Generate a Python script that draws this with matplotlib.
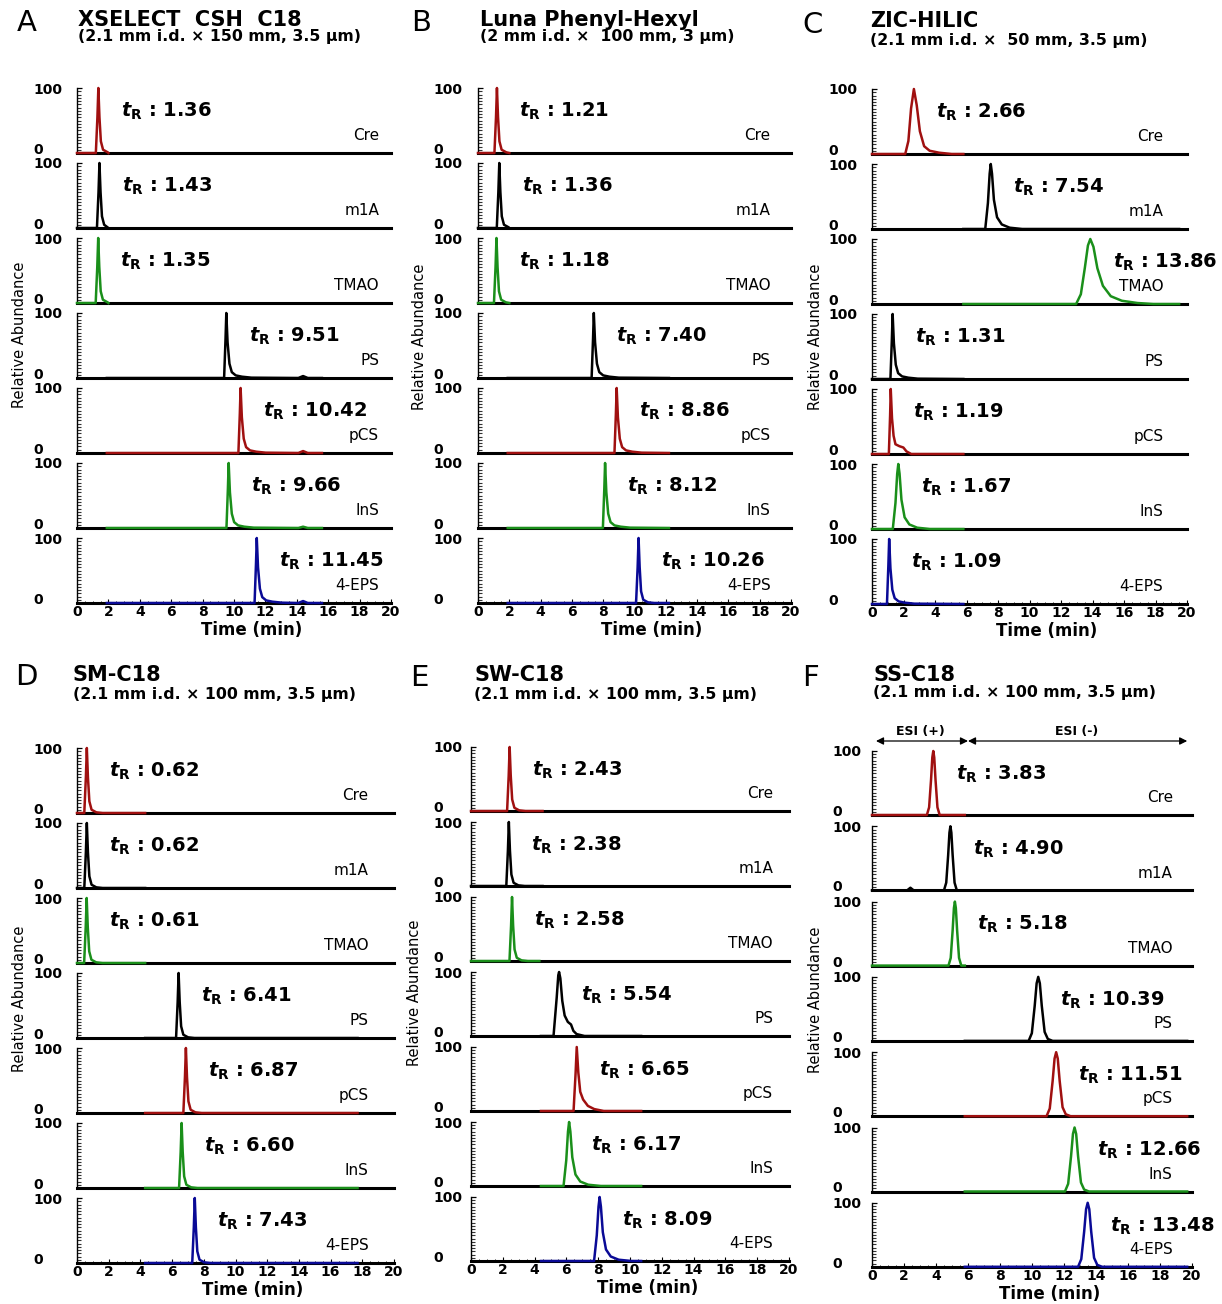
import matplotlib
matplotlib.use("Agg")
import matplotlib.pyplot as plt
from matplotlib.ticker import MultipleLocator
import matplotlib.transforms as mtransforms

plt.rcParams["font.family"] = ["DejaVu Sans"]
plt.rcParams["mathtext.fontset"] = "custom"
plt.rcParams["mathtext.rm"] = "DejaVu Sans"
plt.rcParams["mathtext.bf"] = "DejaVu Sans:bold"
plt.rcParams["mathtext.it"] = "DejaVu Sans:italic"
plt.rcParams["mathtext.bfit"] = "DejaVu Sans:italic:bold"

# ---------------------------------------------------------------- data
compounds = ["Cre", "m1A", "TMAO", "PS", "pCS", "InS", "4-EPS"]

panel_letters = ["A", "B", "C", "D", "E", "F"]
column_names = ["XSELECT  CSH  C18", "Luna Phenyl-Hexyl", "ZIC-HILIC",
                "SM-C18", "SW-C18", "SS-C18"]
column_specs = ["(2.1 mm i.d. × 150 mm, 3.5 μm)",
                "(2 mm i.d. ×  100 mm, 3 μm)",
                "(2.1 mm i.d. ×  50 mm, 3.5 μm)",
                "(2.1 mm i.d. × 100 mm, 3.5 μm)",
                "(2.1 mm i.d. × 100 mm, 3.5 μm)",
                "(2.1 mm i.d. × 100 mm, 3.5 μm)"]

# retention times (min), in the order of `compounds`
tr_A = [1.36, 1.43, 1.35, 9.51, 10.42, 9.66, 11.45]
tr_B = [1.21, 1.36, 1.18, 7.40, 8.86, 8.12, 10.26]
tr_C = [2.66, 7.54, 13.86, 1.31, 1.19, 1.67, 1.09]
tr_D = [0.62, 0.62, 0.61, 6.41, 6.87, 6.60, 7.43]
tr_E = [2.43, 2.38, 2.58, 5.54, 6.65, 6.17, 8.09]
tr_F = [3.83, 4.90, 5.18, 10.39, 11.51, 12.66, 13.48]

# acquisition window of each extracted-ion trace (start, end) in min
seg_A = [(0, 2.0), (0, 2.0), (0, 2.0), (1.9, 15.6), (1.9, 15.6), (1.9, 15.6), (1.9, 15.6)]
seg_B = [(0, 2.0), (0, 2.0), (0, 2.0), (1.9, 12.2), (1.9, 12.2), (1.9, 12.2), (1.9, 12.2)]
seg_C = [(0, 5.8), (5.8, 19.5), (5.8, 19.5), (0, 5.8), (0, 5.8), (0, 5.8), (0, 5.8)]
seg_D = [(0, 4.3), (0, 4.3), (0, 4.3), (4.3, 17.7), (4.3, 17.7), (4.3, 17.7), (4.3, 17.7)]
seg_E = [(0, 4.5), (0, 4.5), (0, 4.3), (4.4, 10.7), (4.4, 10.7), (4.4, 10.7), (4.4, 10.7)]
seg_F = [(0, 5.8), (0, 5.8), (0, 5.8), (5.8, 19.7), (5.8, 19.7), (5.8, 19.7), (5.8, 19.7)]

# peak profiles: (time from apex in min, relative abundance %)
peak_spike = [(-0.16, 0), (-0.06, 55), (0, 100), (0.07, 55), (0.16, 18), (0.3, 5), (0.6, 1), (1.0, 0)]
peak_tailing = [(-0.14, 0), (-0.05, 60), (0, 100), (0.08, 55), (0.2, 22), (0.35, 9),
                (0.6, 4), (1.0, 2), (1.6, 0.5)]
peak_medium = [(-0.35, 0), (-0.18, 40), (-0.07, 85), (0, 100), (0.08, 85), (0.2, 45),
               (0.4, 18), (0.7, 7), (1.2, 2), (2.0, 0)]
peak_broad = [(-0.55, 0), (-0.35, 20), (-0.18, 70), (0, 100), (0.18, 75), (0.38, 35),
              (0.65, 12), (1.0, 5), (1.6, 2), (2.4, 0)]
peak_broad_tail = [(-0.9, 0), (-0.6, 15), (-0.35, 55), (-0.15, 90), (0, 100), (0.2, 88),
                   (0.45, 55), (0.8, 28), (1.3, 12), (2.0, 5), (3.0, 1.5), (4.0, 0)]
peak_gauss = [(-0.4, 0), (-0.26, 12), (-0.14, 55), (-0.06, 90), (0, 100), (0.06, 90),
              (0.14, 55), (0.26, 12), (0.4, 0)]
peak_gauss_wide = [(-0.6, 0), (-0.4, 12), (-0.22, 55), (-0.1, 90), (0, 100), (0.1, 90),
                   (0.22, 55), (0.4, 14), (0.6, 3), (0.9, 0)]
peak_shoulder = [(-0.35, 0), (-0.15, 60), (-0.05, 95), (0, 100), (0.08, 90), (0.2, 55),
                 (0.35, 32), (0.55, 22), (0.75, 18), (0.9, 8), (1.1, 3), (1.6, 0)]
peak_shoulder_early = [(-0.12, 0), (-0.04, 60), (0, 100), (0.08, 55), (0.18, 28), (0.3, 15),
                       (0.55, 12), (0.8, 10), (1.0, 4), (1.3, 0)]
peak_long_tail = [(-0.2, 0), (-0.07, 60), (0, 100), (0.1, 60), (0.22, 30), (0.4, 18),
                  (0.7, 8), (1.1, 3), (1.7, 0)]

shape_A = [peak_spike, peak_spike, peak_spike, peak_tailing, peak_tailing, peak_tailing, peak_tailing]
shape_B = [peak_spike, peak_spike, peak_spike, peak_tailing, peak_tailing, peak_tailing, peak_spike]
shape_C = [peak_broad, peak_medium, peak_broad_tail, peak_tailing, peak_shoulder_early,
           peak_medium, peak_tailing]
shape_D = [peak_spike] * 7
shape_E = [peak_spike, peak_spike, peak_spike, peak_shoulder, peak_long_tail,
           peak_medium, peak_medium]
shape_F = [peak_gauss, peak_gauss, peak_gauss, peak_gauss_wide, peak_gauss_wide,
           peak_gauss_wide, peak_gauss_wide]

# small secondary signals: (time, abundance, half width)
minor_A = [[], [], [], [(14.4, 3, 0.3)], [(14.4, 3, 0.3)], [(14.4, 2, 0.3)], [(14.4, 3, 0.3)]]
minor_F = [[], [(2.4, 4, 0.2)], [], [], [], [], []]
minor_none = [[]] * 7

panel_tr = [tr_A, tr_B, tr_C, tr_D, tr_E, tr_F]
panel_seg = [seg_A, seg_B, seg_C, seg_D, seg_E, seg_F]
panel_shape = [shape_A, shape_B, shape_C, shape_D, shape_E, shape_F]
panel_minor = [minor_A, minor_none, minor_none, minor_none, minor_none, minor_F]

x_ticks = list(range(0, 21, 2))

# ---------------------------------------------------------------- styling
trace_colors = ["#a01010", "black", "#1a8f1a", "black", "#a01010", "#1a8f1a", "#0a0a96"]

W, H = 1222, 1304
fig = plt.figure(figsize=(W / 100, H / 100), dpi=100)

# per panel geometry in pixels
layout = [
    dict(x0=77, x20=391, top=88, pitch=75, h=65, lab=0.962, pad=44, ylab=(20, 335),
         letter=(17, 23), title=(78, 20, 37)),
    dict(x0=478, x20=791, top=88, pitch=75, h=65, lab=0.935, pad=45, ylab=(420, 337),
         letter=(411, 23), title=(480, 20, 37)),
    dict(x0=872, x20=1187, top=89, pitch=75, h=65, lab=0.925, pad=44, ylab=(815, 337),
         letter=(802, 25), title=(870, 21, 41)),
    dict(x0=77, x20=394, top=748, pitch=75, h=65, lab=0.92, pad=44, ylab=(20, 999),
         letter=(15, 677), title=(73, 675, 695)),
    dict(x0=471, x20=789, top=747, pitch=75, h=64, lab=0.95, pad=38, ylab=(414, 993),
         letter=(410, 678), title=(474, 675, 694)),
    dict(x0=872, x20=1192, top=751, pitch=75.3, h=64, lab=0.94, pad=40, ylab=(815, 1000),
         letter=(802, 678), title=(873, 675, 693)),
]


def px_rect(left, top, width, height):
    return [left / W, 1 - (top + height) / H, width / W, height / H]


def trace_points(tr, start, end, profile, bumps):
    pts = [(start, 0.0), (end, 0.0)]
    for dt, y in profile:
        t = tr + dt
        if start < t < end:
            pts.append((t, y))
    for bt, bh, bw in bumps:
        pts += [(bt - bw, 0.0), (bt, bh), (bt + bw, 0.0)]
    pts.sort()
    return [p[0] for p in pts], [p[1] for p in pts]


for p, lay in enumerate(layout):
    width = lay["x20"] - lay["x0"]
    axes = []
    for i, name in enumerate(compounds):
        top = lay["top"] + lay["pitch"] * i
        ax = fig.add_axes(px_rect(lay["x0"], top, width, lay["h"]))
        axes.append(ax)
        ax.set_xlim(0, 20)
        ax.set_ylim(0, 100)
        ax.patch.set_visible(False)
        for s in ("top", "right"):
            ax.spines[s].set_visible(False)
        ax.spines["left"].set_linewidth(1.0)
        ax.spines["bottom"].set_linewidth(2.2)

        tr = panel_tr[p][i]
        start, end = panel_seg[p][i]
        xs, ys = trace_points(tr, start, end, panel_shape[p][i], panel_minor[p][i])
        ax.plot(xs, ys, color=trace_colors[i], lw=1.8, clip_on=False, zorder=3,
                solid_joinstyle="round")

        ax.annotate(r"$\mathbfit{t}_{\mathbf{R}}$ : " + f"{tr:.2f}",
                    xy=(tr, 0.555), xycoords=("data", "axes fraction"),
                    xytext=(16, 0), textcoords="offset points",
                    ha="left", va="baseline", fontsize=14, fontweight="bold")
        ax.text(lay["lab"], 0.2, name, transform=ax.transAxes, ha="right",
                va="baseline", fontsize=11)

        # y axis: 0 / 100 with a dense ruler of minor ticks
        ax.set_yticks([0, 100])
        ax.set_yticklabels(["0", "100"], fontsize=10, fontweight="bold")
        ax.yaxis.set_minor_locator(MultipleLocator(5))
        ax.tick_params(axis="y", which="major", direction="in", length=3.5, width=0.9,
                       pad=lay["pad"] * 0.72)
        ax.tick_params(axis="y", which="minor", direction="in", length=3, width=0.8,
                       color="#333333")
        for lbl in ax.get_yticklabels():
            lbl.set_horizontalalignment("left")

        if i < len(compounds) - 1:
            ax.tick_params(axis="x", which="both", bottom=False, labelbottom=False)
        else:
            ax.set_xticks(x_ticks)
            ax.set_xticklabels([str(v) for v in x_ticks], fontsize=10, fontweight="bold")
            ax.xaxis.set_minor_locator(MultipleLocator(0.5))
            ax.tick_params(axis="x", which="major", direction="in", length=3, width=0.8,
                           pad=1.5)
            ax.tick_params(axis="x", which="minor", direction="in", length=1.8, width=0.6)
            ax.set_xlabel("Time (min)", fontsize=12, fontweight="bold")
            ax.xaxis.set_label_coords(0.555, -27 / lay["h"])
            ax.xaxis.label.set_va("center")

        # lift the "0" label a little above the baseline
        zero_lbl = ax.get_yticklabels()[0]
        zero_lbl.set_transform(zero_lbl.get_transform()
                               + mtransforms.ScaledTranslation(0, 4.5 / 100, fig.dpi_scale_trans))

    # panel headings
    lx, ly = lay["letter"]
    fig.text(lx / W, 1 - ly / H, panel_letters[p], fontsize=21, ha="left", va="center")
    tx, ty, sy = lay["title"]
    fig.text(tx / W, 1 - ty / H, column_names[p], fontsize=15, fontweight="bold",
             ha="left", va="center")
    fig.text(tx / W, 1 - sy / H, column_specs[p], fontsize=11.3, fontweight="bold",
             ha="left", va="center")
    yx, yy = lay["ylab"]
    fig.text(yx / W, 1 - yy / H, "Relative Abundance", rotation=90, fontsize=10.5,
             ha="center", va="center")

    # ionisation mode switch for the SS-C18 run
    if panel_letters[p] == "F":
        ax0 = axes[0]
        arrow_y = 1 + 10 / lay["h"]
        for a, b in ((0.25, 6.0), (6.0, 19.7)):
            ax0.annotate("", xy=(a, arrow_y), xytext=(b, arrow_y),
                         xycoords=("data", "axes fraction"),
                         arrowprops=dict(arrowstyle="<|-|>", color="black", lw=0.9,
                                         mutation_scale=11, shrinkA=0, shrinkB=0))
        for cx, txt in ((3.0, "ESI (+)"), (12.8, "ESI (-)")):
            ax0.text(cx, 1 + 19 / lay["h"], txt, transform=ax0.get_xaxis_transform(),
                     ha="center", va="center", fontsize=9, fontweight="bold")

fig.savefig("out.png", dpi=100)
